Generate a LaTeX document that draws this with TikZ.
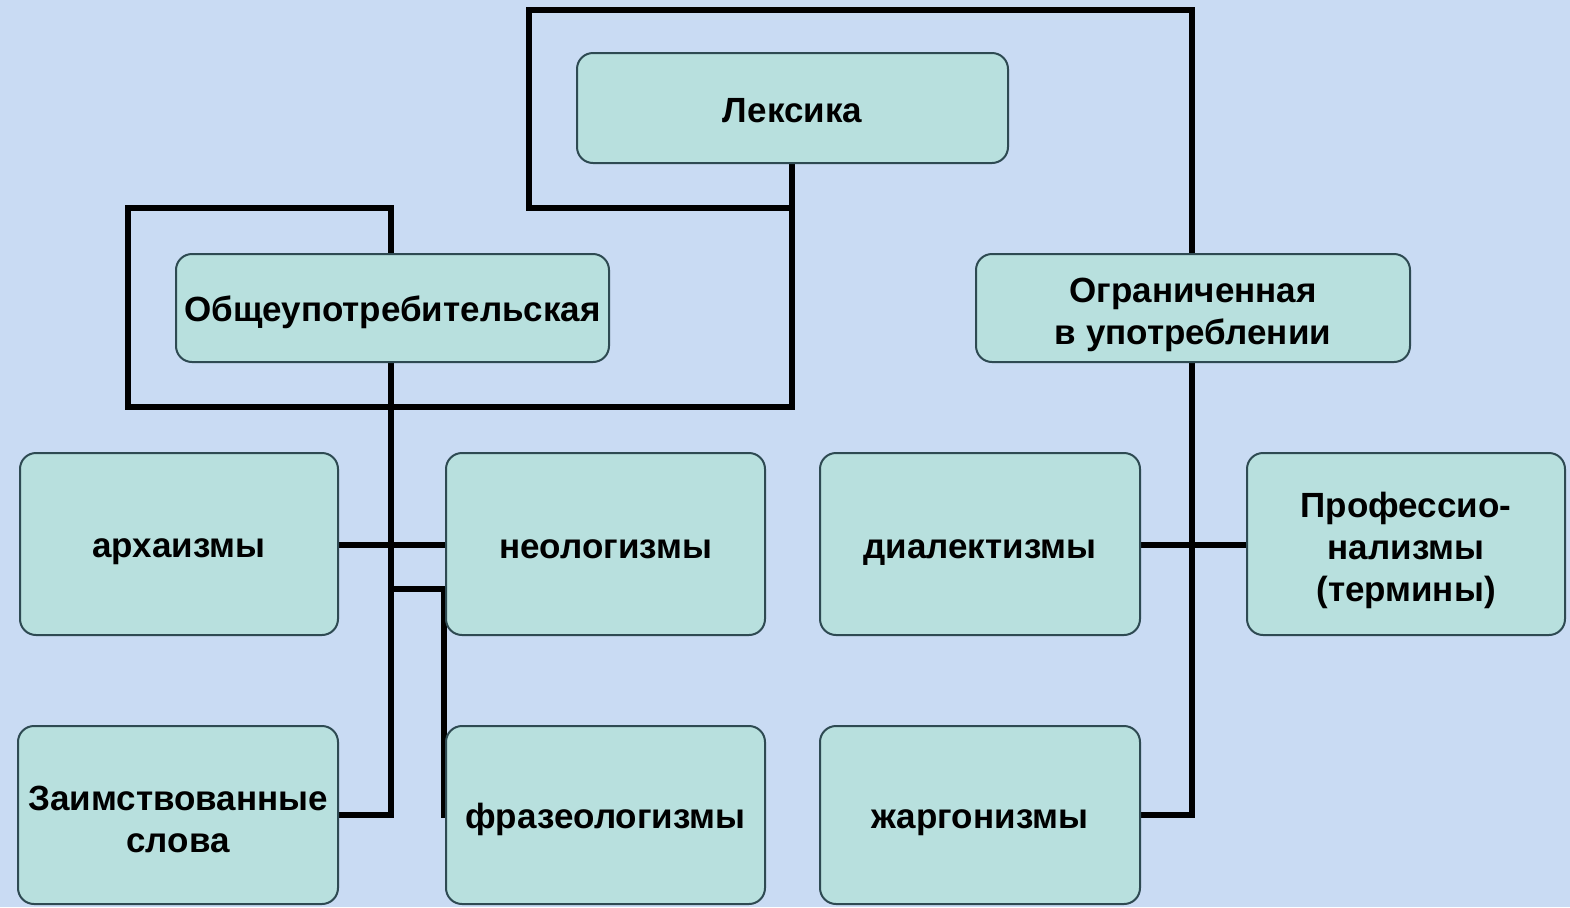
\documentclass[tikz,border=0pt]{standalone}
\usepackage{fontspec}
\setmainfont{Liberation Sans}
\definecolor{bgc}{HTML}{C9DBF3}
\definecolor{boxfill}{HTML}{B8E0DE}
\definecolor{boxline}{HTML}{2E4A52}
\newcommand{\pstrut}{\rule[-3.5pt]{0pt}{21pt}}
\newcommand{\topstrut}{\rule{0pt}{19.5pt}}
\newcommand{\botstrut}{\rule[-3.5pt]{0pt}{3.5pt}}
\tikzset{
  mbox/.style={draw=boxline, line width=1pt, fill=boxfill, rounded corners=8pt,
    align=center, font=\fontsize{17.5}{21}\selectfont\bfseries, text=black, inner sep=0pt},
  box/.style={mbox, execute at begin node=\pstrut},
  conn/.style={line width=2.6pt, draw=black, line cap=rect}
}
\begin{document}
\begin{tikzpicture}[x=0.5pt,y=-0.5pt]
\fill[bgc] (0,0) rectangle (1570,907);
\useasboundingbox (0,0) rectangle (1570,907);
% coordinates for connector corners
\coordinate (tl) at (529,10);
\coordinate (tr) at (1192,10);
\coordinate (ml) at (529,208);
\coordinate (mc) at (792,208);
\coordinate (lb) at (792,407);
\coordinate (bl) at (128,407);
\coordinate (ul) at (128,208);
\coordinate (ur) at (391,208);
\coordinate (jl) at (391,815);
\coordinate (fa) at (391,589);
\coordinate (fb) at (444,589);
\coordinate (fc) at (444,815);
\coordinate (jr) at (1192,815);
% connectors (drawn under boxes)
\draw[conn] (1192,254) -- (tr) -- (tl) -- (ml) -- (mc);
\draw[conn] (792,163) -- (lb) -- (bl) -- (ul) -- (ur) -- (391,254);
\draw[conn] (391,362) -- (jl) -- (338,815);
\draw[conn] (338,545) -- (446,545);
\draw[conn] (fa) -- (fb) -- (fc);
\draw[conn] (1192,362) -- (jr) -- (1140,815);
\draw[conn] (1140,545) -- (1247,545);
% boxes
\node[box, minimum width=215.5pt, minimum height=55pt] (lex) at (792.5,108) {Лексика};
\node[box, minimum width=216.5pt, minimum height=54pt] (obs) at (392.5,308) {Общеупотребительская};
\node[mbox, minimum width=217pt, minimum height=54pt] (ogr) at (1193,308) {\topstrut Ограниченная\\в употреблении\botstrut};
\node[box, minimum width=159pt, minimum height=91pt] (arh) at (179,544) {архаизмы};
\node[box, minimum width=159.5pt, minimum height=91pt] (neo) at (605.5,544) {неологизмы};
\node[box, minimum width=160pt, minimum height=91pt] (dia) at (980,544) {диалектизмы};
\node[mbox, minimum width=159pt, minimum height=91pt] (pro) at (1406,544) {\topstrut Профессио-\\нализмы\\(термины)\botstrut};
\node[mbox, minimum width=160pt, minimum height=89pt] (zai) at (178,815) {\topstrut Заимствованные\\слова\botstrut};
\node[box, minimum width=159.5pt, minimum height=89pt] (fra) at (605.5,815) {фразеологизмы};
\node[box, minimum width=160pt, minimum height=89pt] (zha) at (980,815) {жаргонизмы};
\end{tikzpicture}
\end{document}
